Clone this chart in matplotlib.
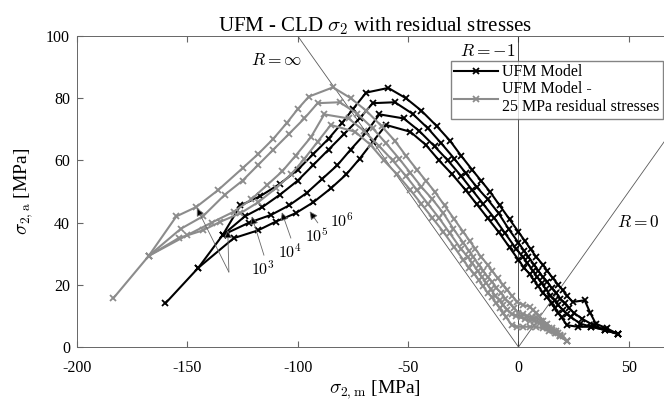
import numpy as np
import matplotlib
matplotlib.use('Agg')
import matplotlib.pyplot as plt

plt.rcParams['font.family'] = 'Liberation Serif'
plt.rcParams['mathtext.fontset'] = 'cm'
plt.rcParams['axes.unicode_minus'] = False

# UFM model, one curve per number of cycles (sigma_m, sigma_a) in MPa
b1_m = [-160, -145, -134, -126, -117, -108, -100, -93, -86, -80, -75, -69, -59, -51, -44, -37, -31, -26, -21, -17, -13, -8.5, -4, 0, 3, 5.5, 8, 11, 13, 15.5, 18, 20, 22, 24.5, 30, 32.5, 35, 40, 45]
b1_a = [14, 25.5, 36, 45.5, 48.5, 52.5, 57, 62, 67, 72, 76.5, 81.8, 83.3, 80, 76, 71, 66.3, 61.5, 57, 53.5, 50, 45.5, 41, 37, 34, 31.5, 29, 26.5, 24.5, 22.2, 20, 18.3, 16.5, 14.5, 15, 11, 7.5, 6, 4.2]
b2_m = [-134, -124, -116, -108, -100, -93, -86, -79, -72, -66, -56, -48, -41, -35, -29, -24, -19, -14, -9, -4.5, 0, 2.5, 4.5, 7, 9, 11, 13, 15, 17, 19, 21, 23, 25, 29, 34, 39, 45]
b2_a = [36, 42, 45, 49, 53.5, 58.5, 63.5, 68.5, 73.5, 78.4, 78.7, 75, 70.3, 65.5, 60.5, 56, 51.5, 47.5, 43, 38, 33.5, 31, 29, 26.5, 24.5, 22.5, 21, 19, 17.5, 15.5, 14, 12.5, 11, 9, 7, 5.5, 4.2]
b3_m = [-134, -122, -112, -104, -96, -89, -82, -76, -69, -63, -52, -45, -38, -32, -26, -21, -16, -11, -6, -1, 2, 4, 6.5, 8.5, 10.5, 12.5, 14.5, 16.5, 18, 20, 22, 24, 28, 33, 39, 45]
b3_a = [36, 40, 42.5, 45.5, 49.5, 54, 58.5, 63.5, 69, 74.8, 73.5, 69.5, 64.5, 60, 55, 50.5, 46, 41.5, 36.5, 31.5, 29, 27, 24.5, 22.5, 20.5, 18.5, 16.5, 15, 13.5, 12, 10.5, 9.5, 7.5, 6.5, 5.5, 4.2]
b4_m = [-145, -129, -118, -110, -101, -93, -85, -78, -72, -66, -60, -49, -42, -36, -30, -24, -19, -14, -9, -4, 0, 2.5, 5, 7, 9, 11, 13, 15, 16.5, 18, 19.5, 22, 27, 33, 39, 45]
b4_a = [25.5, 35, 37.5, 40.3, 43, 46.5, 51, 55.5, 60.5, 66, 71.4, 69.2, 65, 60, 55.5, 50.5, 46, 41.5, 37, 32, 28, 25.5, 23.5, 21.5, 19.5, 17.5, 16, 14, 12.5, 11, 9.5, 7, 6.5, 6.5, 5.5, 4.2]

# UFM model with 25 MPa residual stresses
g1_m = [-183.5, -167.5, -155, -146, -136, -125, -118, -111, -105, -100, -95, -84, -76, -69, -62, -56, -51, -46, -42, -38, -33.5, -29, -25, -22, -19.5, -17, -14, -12, -9.5, -7, -5, -3, -0.5, 2, 5, 6.5, 8, 9.5, 11, 13, 15, 17, 19, 22]
g1_a = [15.7, 29.3, 42, 45, 50.5, 57.5, 62, 67, 72, 76.5, 80.5, 83.5, 80, 76, 71, 66.3, 61.5, 57, 53.5, 50, 45.5, 41, 37, 34, 31.5, 29, 26.5, 24.5, 22.2, 20, 18.3, 16.5, 14.5, 13.5, 13, 12, 11, 10, 8.5, 7.5, 6, 5, 4, 1.8]
g2_m = [-167.5, -153, -143, -133, -125, -118, -111, -104, -97, -91, -81, -73, -66, -60, -54, -49, -44, -39, -34, -29.5, -25, -22.5, -20.5, -18, -16, -14, -12, -10, -8, -6, -4, -2, 0, 2, 4, 6, 8, 10, 12, 14, 16, 18, 20, 22]
g2_a = [29.3, 38, 42, 49, 53.5, 58.5, 63.5, 68.5, 73.5, 78.4, 78.7, 75, 70.3, 65.5, 60.5, 56, 51.5, 47.5, 43, 38, 33.5, 31, 29, 26.5, 24.5, 22.5, 21, 19, 17.5, 15.5, 14, 12.5, 11, 10.5, 10, 9.5, 9.5, 8.5, 7, 6, 5, 4.5, 3.5, 1.8]
g3_m = [-167.5, -150, -139, -129, -121, -114, -107, -101, -94, -88, -77, -70, -63, -57, -51, -46, -41, -36, -31, -26, -23, -21, -18.5, -16.5, -14.5, -12.5, -10.5, -8.5, -7, -5, -3, -1, 1, 3, 5, 7, 9, 11, 13, 15, 17, 19, 22]
g3_a = [29.3, 36, 40, 43.5, 47.5, 52, 56.5, 61.5, 67.5, 74.8, 73.5, 69.5, 64.5, 60, 55, 50.5, 46, 41.5, 36.5, 31.5, 29, 27, 24.5, 22.5, 20.5, 18.5, 16.5, 15, 13.5, 12, 10.5, 10, 9.5, 9, 8.5, 8.5, 8, 7, 6, 5.5, 4.5, 3.5, 1.8]
g4_m = [-167.5, -154, -143, -135, -126, -118, -110, -103, -97, -91, -85, -74, -67, -61, -55, -49, -44, -39, -34, -29, -25, -22.5, -20, -18, -16, -14, -12, -10, -8.5, -7, -5.5, -3, -0.5, 2, 5, 8, 11, 14, 16.5, 19, 22]
g4_a = [29.3, 35, 37.5, 40.3, 43, 46.5, 51, 55.5, 60.5, 66, 71.4, 69.2, 65, 60, 55.5, 50.5, 46, 41.5, 37, 32, 28, 25.5, 23.5, 21.5, 19.5, 17.5, 16, 14, 12.5, 11, 9.5, 7, 6.5, 6.5, 6.5, 6.5, 6, 5, 4.5, 3.5, 1.8]

black_m = [b1_m, b2_m, b3_m, b4_m]
black_a = [b1_a, b2_a, b3_a, b4_a]
gray_m = [g1_m, g2_m, g3_m, g4_m]
gray_a = [g1_a, g2_a, g3_a, g4_a]

# cycle labels: text position and arrow tip
cycle_labels = ['$10^3$', '$10^4$', '$10^5$', '$10^6$']
label_xy = [(-115.8, 25.0), (-103.6, 30.5), (-91.4, 35.4), (-80.1, 40.2)]
arrow_tip = [(-120.8, 42.0), (-107.2, 43.3), (-94.6, 43.6), None]

fig = plt.figure(figsize=(6.64, 4.01), dpi=100)
ax = fig.add_axes([77/664, 54/401, 596/664, 311/401])

# constant R lines
ax.plot([0, -100], [0, 100], color='0.35', lw=0.6)
ax.plot([0, 0], [0, 100], color='0.2', lw=0.6)
ax.plot([0, 100], [0, 100], color='0.35', lw=0.6)
ax.text(-98, 92, r'$R = \infty$', ha='right', va='center', fontsize=12.5)
ax.text(-1.2, 95, r'$R = -1$', ha='right', va='center', fontsize=12.5)
ax.text(64, 40, r'$R = 0$', ha='right', va='center', fontsize=12.5)

for i in range(4):
    ax.plot(black_m[i], black_a[i], '-x', color='k', lw=1.5, ms=5, mew=1.3,
            label='UFM Model' if i == 0 else None)
for i in range(4):
    ax.plot(gray_m[i], gray_a[i], '-x', color='0.55', lw=1.5, ms=5, mew=1.3,
            label='UFM Model -\n25 MPa residual stresses' if i == 0 else None)

# V shaped arrows near the start of the curves
for tip in [(-145.7, 44.7), (-131.7, 37.6)]:
    ax.annotate('', xy=tip, xytext=(-131.2, 24.1),
                arrowprops=dict(arrowstyle='-|>', fc='k', ec='0.4', lw=0.6, mutation_scale=12,
                                shrinkA=0, shrinkB=0))
for lab, pos, tip in zip(cycle_labels, label_xy, arrow_tip):
    ax.text(pos[0], pos[1], lab, ha='center', va='center', fontsize=11.5)
    if tip is not None:
        ax.annotate('', xy=tip, xytext=(pos[0] + 0.5, pos[1] + 4.5),
                    arrowprops=dict(arrowstyle='-|>', fc='k', ec='0.4', lw=0.6, mutation_scale=12,
                                    shrinkA=0, shrinkB=0))

ax.set_xlim(-200, 70)
ax.set_ylim(0, 100)
ax.set_xticks([-200, -150, -100, -50, 0, 50])
ax.set_yticks([0, 20, 40, 60, 80, 100])
ax.tick_params(direction='in', top=True, right=True, labelsize=11.5, length=4, color='0.4')
ax.tick_params(axis='x', pad=9)
ax.tick_params(axis='y', pad=5)
for s in ax.spines.values():
    s.set_color('0.4')
    s.set_linewidth(0.7)

ax.set_title(r'UFM - CLD $\sigma_2$ with residual stresses', fontsize=15, pad=3)
ax.set_xlabel(r'$\sigma_{2,\mathrm{m}}$ [MPa]', fontsize=14, labelpad=2)
ax.set_ylabel(r'$\sigma_{2,\mathrm{a}}$ [MPa]', fontsize=14, labelpad=8)

ax.legend(loc='upper right', bbox_to_anchor=(663/664, 1 - 61/401), bbox_transform=fig.transFigure,
          fontsize=11.5, handlelength=2.75, frameon=True, fancybox=False, edgecolor='0.4',
          borderpad=0.2, labelspacing=0.05, handletextpad=0.3, borderaxespad=0)

plt.savefig('out.png', dpi=100)
